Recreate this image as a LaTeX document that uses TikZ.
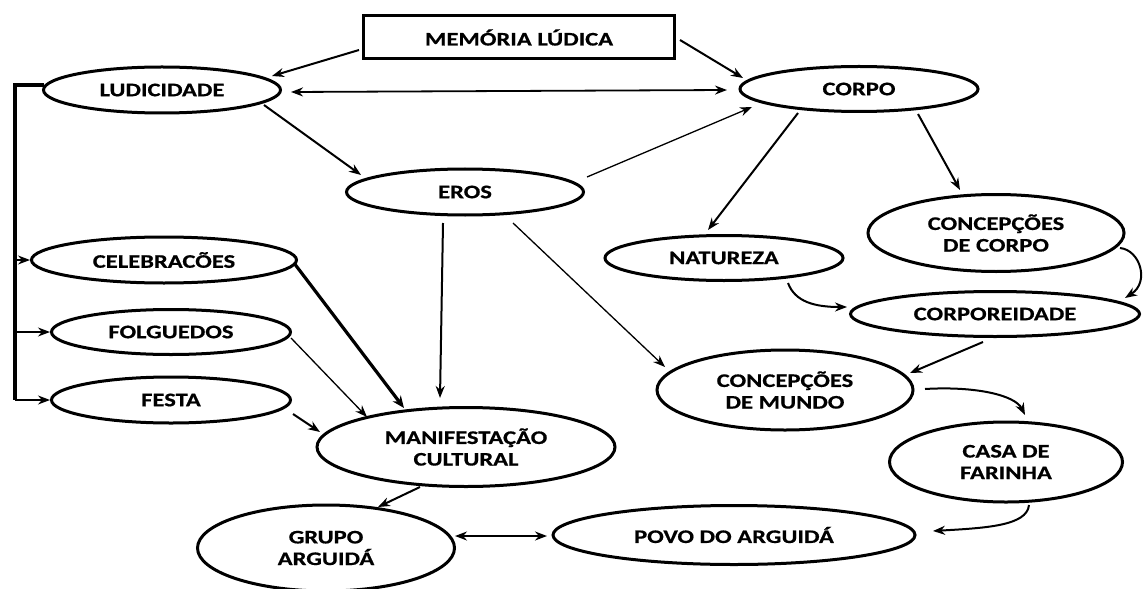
\documentclass[tikz,border=0pt]{standalone}
\usepackage{fontspec}
\newfontfamily\lblfont{Carlito}[FakeStretch=1.28, BoldFeatures={FakeBold=0.6}]
\usetikzlibrary{shapes.geometric,arrows.meta,calc}
\begin{document}
\begin{tikzpicture}[x=0.5pt,y=-0.5pt,
  every node/.style={font=\lblfont\bfseries\fontsize{9.6}{10.8}\selectfont, align=center, text=black},
  elli/.style={ellipse, draw, line width=1.5pt, inner sep=0pt},
  boxnode/.style={rectangle, draw, line width=1.5pt, inner sep=0pt},
  arr/.style={-{Stealth[length=6pt,width=4.5pt]}, line width=1pt},
  arrthin/.style={-{Stealth[length=6pt,width=4.5pt]}, line width=0.65pt},
  arrthick/.style={-{Stealth[length=6pt,width=5pt]}, line width=1.6pt},
  darr/.style={{Stealth[length=6pt,width=4.5pt]}-{Stealth[length=6pt,width=4.5pt]}, line width=0.9pt},
  brk/.style={line width=1.6pt}
]
\fill[white] (0,0) rectangle (1143,588);
\useasboundingbox (0,0) rectangle (1143,588);

% nodes
\node[boxnode, minimum width=155.5pt, minimum height=21.5pt] (mem) at (519,37.5) {MEMÓRIA LÚDICA};
\node[elli, minimum width=118.5pt, minimum height=23pt] (lud) at (162,90) {LUDICIDADE};
\node[elli, minimum width=119pt, minimum height=22.5pt] (corpo) at (859,89) {CORPO};
\node[elli, minimum width=118.5pt, minimum height=23pt] (eros) at (465,192) {EROS};
\node[elli, minimum width=132.5pt, minimum height=23pt] (cel) at (164,260) {CELEBRACÕES};
\node[elli, minimum width=119pt, minimum height=22.5pt] (nat) at (724,258) {NATUREZA};
\node[elli, minimum width=128pt, minimum height=38.5pt] (ccorpo) at (996,233) {CONCEPÇÕES\\DE CORPO};
\node[elli, minimum width=144.5pt, minimum height=22.5pt] (creid) at (995,314) {CORPOREIDADE};
\node[elli, minimum width=119.5pt, minimum height=22.5pt] (folg) at (171,332) {FOLGUEDOS};
\node[elli, minimum width=119.5pt, minimum height=23pt] (festa) at (171,400) {FESTA};
\node[elli, minimum width=128pt, minimum height=40pt] (cmundo) at (785,390) {CONCEPÇÕES\\DE MUNDO};
\node[elli, minimum width=149pt, minimum height=39.5pt] (manif) at (466,447) {MANIFESTAÇÃO\\CULTURAL};
\node[elli, minimum width=116.5pt, minimum height=40pt] (casa) at (1006,462) {CASA DE\\FARINHA};
\node[elli, minimum width=128.5pt, minimum height=43pt] (grupo) at (326,548) {GRUPO\\ARGUIDÁ};
\node[elli, minimum width=181pt, minimum height=29.5pt] (povo) at (734,535) {POVO DO ARGUIDÁ};

% bracket on the left
\coordinate (brtop) at (15,85);
\coordinate (brbot) at (15,398);
\draw[brk] ($(lud)+(-118,-5)$) -- (brtop) -- (brbot |- festa.west);
\draw[arrthin] (brtop |- cel.west) -- (cel.west);
\draw[arrthin] (brtop |- folg.west) -- (folg.west);
\draw[arrthin] (brtop |- festa.west) -- (festa.west);

% straight connectors
\draw[arr] ($(mem)+(-160,12.5)$) -- ($(lud)+(110,-14)$);
\draw[arr] ($(mem)+(161,2.5)$) -- ($(corpo)+(-116,-11)$);
\draw[darr] ($(lud)+(129,2)$) -- ($(corpo)+(-132,1)$);
\draw[arr] ($(lud)+(102,15)$) -- ($(eros)+(-104,-17)$);
\draw[arrthin] ($(eros)+(122,-15)$) -- ($(corpo)+(-107,18)$);
\draw[arr] ($(corpo)+(-61,24)$) -- ($(nat)+(-16,-28)$);
\draw[arr] ($(corpo)+(59,25)$) -- ($(ccorpo)+(-36,-43)$);
\draw[arr] ($(eros)+(-22,31)$) -- ($(manif)+(-26,-49)$);
\draw[arrthin] ($(eros)+(48,31)$) -- ($(cmundo)+(-120,-23)$);
\draw[arrthick] ($(cel)+(130,3)$) -- ($(manif)+(-62,-39)$);
\draw[arrthin] ($(folg)+(120,6)$) -- ($(manif)+(-99,-30)$);
\draw[arr] ($(festa)+(122,14)$) -- ($(manif)+(-146,-15)$);
\draw[arr] ($(manif)+(-46,40)$) -- ($(grupo)+(52,-41)$);
\draw[darr] ($(grupo)+(129,-12)$) -- ($(povo)+(-187,1)$);
\draw[arr] ($(creid)+(-12,28)$) -- ($(cmundo)+(125,-17)$);

% curved connectors
\draw[arr] ($(nat)+(64,25)$) .. controls (795,302) and (815,307) .. ($(creid)+(-148,-7)$);
\draw[arr] ($(ccorpo)+(124,15)$) .. controls (1140,250) and (1150,282) .. ($(creid)+(130,-16)$);
\draw[arr] ($(cmundo)+(140,-1)$) .. controls (975,386) and (1015,395) .. ($(casa)+(19,-47)$);
\draw[arr] ($(casa)+(23,43)$) .. controls (1027,526) and (985,528) .. ($(povo)+(199,-4)$);
\end{tikzpicture}
\end{document}
